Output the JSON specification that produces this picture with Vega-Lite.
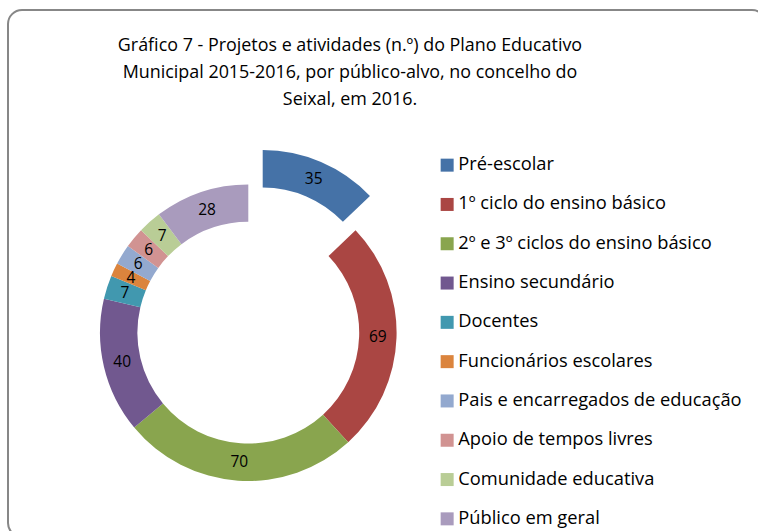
{
  "$schema": "https://vega.github.io/schema/vega-lite/v6.json",
  "width": 758,
  "height": 527,
  "autosize": {"type": "none"},
  "padding": {"left": 8, "top": 10, "right": -8, "bottom": -6},
  "background": "white",
  "view": {"stroke": "#878787", "strokeWidth": 2, "cornerRadius": 14},
  "config": {
    "view": {"stroke": "#878787", "strokeWidth": 2, "cornerRadius": 14},
    "font": "Open Sans"
  },
  "title": {
    "text": ["Gráfico 7 - Projetos e atividades (n.º) do Plano Educativo", "Municipal 2015-2016, por público-alvo, no concelho do", "Seixal, em 2016."],
    "fontSize": 17.9,
    "fontWeight": "normal",
    "font": "Open Sans",
    "color": "black",
    "anchor": "middle",
    "baseline": "top",
    "offset": 0,
    "dx": -37,
    "dy": 99,
    "lineHeight": 27
  },
  "data": {
    "values": [
      {"cat": "Pré-escolar", "value": 35, "order": 1},
      {"cat": "1º ciclo do ensino básico", "value": 69, "order": 2},
      {"cat": "2º e 3º ciclos do ensino básico", "value": 70, "order": 3},
      {"cat": "Ensino secundário", "value": 40, "order": 4},
      {"cat": "Docentes", "value": 7, "order": 5},
      {"cat": "Funcionários escolares", "value": 4, "order": 6},
      {"cat": "Pais e encarregados de educação", "value": 6, "order": 7},
      {"cat": "Apoio de tempos livres", "value": 6, "order": 8},
      {"cat": "Comunidade educativa", "value": 7, "order": 9},
      {"cat": "Público em geral", "value": 28, "order": 10}
    ]
  },
  "encoding": {
    "theta": {"field": "value", "type": "quantitative", "stack": true},
    "order": {"field": "order", "type": "quantitative"},
    "color": {
      "field": "cat",
      "type": "nominal",
      "scale": {
        "domain": ["Pré-escolar", "1º ciclo do ensino básico", "2º e 3º ciclos do ensino básico", "Ensino secundário", "Docentes", "Funcionários escolares", "Pais e encarregados de educação", "Apoio de tempos livres", "Comunidade educativa", "Público em geral"],
        "range": ["#4572A7", "#AA4643", "#89A54E", "#71588F", "#4198AF", "#DB843D", "#93A9CF", "#D19392", "#B9CD96", "#A99BBD"]
      },
      "legend": {
        "orient": "none",
        "legendX": 430,
        "legendY": 146,
        "title": null,
        "symbolType": "square",
        "symbolSize": 169,
        "symbolStrokeWidth": 0,
        "symbolOpacity": 1,
        "labelFontSize": 18.3,
        "labelFont": "Open Sans",
        "labelColor": "black",
        "rowPadding": 20.3,
        "labelOffset": 2,
        "padding": 0,
        "labelLimit": 400
      }
    }
  },
  "layer": [
    {
      "mark": {"type": "arc", "radius": 148.3, "radius2": 110.9, "xOffset": -138.7, "yOffset": 59.2},
      "encoding": {"opacity": {"condition": {"test": "datum.order == 1", "value": 0}, "value": 1}}
    },
    {
      "mark": {"type": "arc", "radius": 148.3, "radius2": 110.9, "xOffset": -124.3, "yOffset": 24.9},
      "encoding": {"opacity": {"condition": {"test": "datum.order == 1", "value": 1}, "value": 0}}
    },
    {
      "mark": {"type": "text", "radius": 129.6, "xOffset": -138.7, "yOffset": 59.2, "fontSize": 15.5, "font": "Open Sans"},
      "encoding": {
        "text": {"field": "value", "type": "quantitative"},
        "color": {"value": "black"},
        "opacity": {"condition": {"test": "datum.order == 1", "value": 0}, "value": 1}
      }
    },
    {
      "mark": {"type": "text", "radius": 129.6, "xOffset": -124.3, "yOffset": 24.9, "fontSize": 15.5, "font": "Open Sans"},
      "encoding": {
        "text": {"field": "value", "type": "quantitative"},
        "color": {"value": "black"},
        "opacity": {"condition": {"test": "datum.order == 1", "value": 1}, "value": 0}
      }
    }
  ]
}
